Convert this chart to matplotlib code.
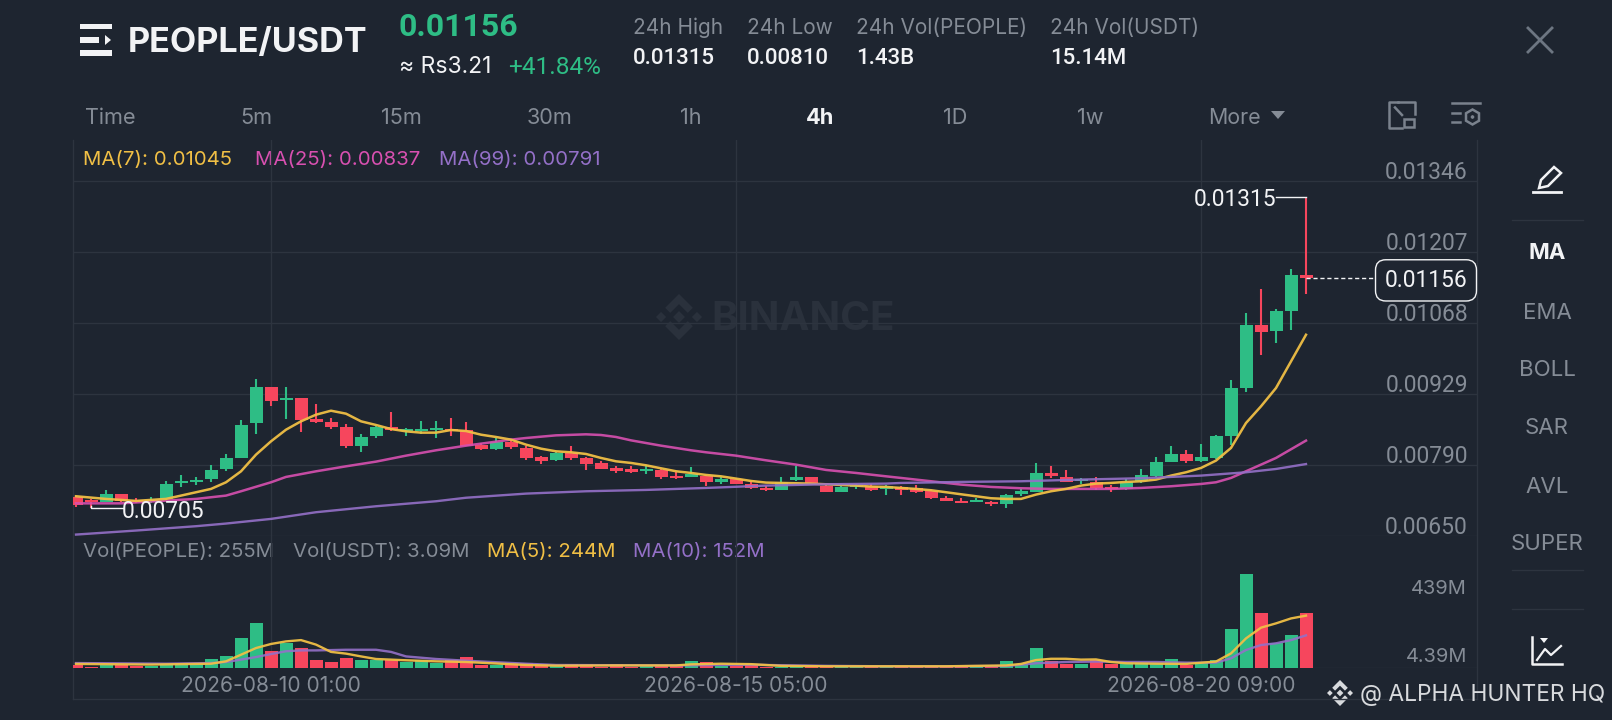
import numpy as np
import matplotlib
matplotlib.use('Agg')
import matplotlib.pyplot as plt
from matplotlib.patches import Polygon, Rectangle, RegularPolygon
from matplotlib.transforms import ScaledTranslation

opens = [726.6, 721.4, 717.5, 731.8, 720.1, 717.5, 722.7, 754, 756, 761.2, 780.8, 803.6, 870.8, 942.6,
         915.9, 921.1, 879.3, 872.8, 863.7, 827.1, 845.4, 863.7, 856.5, 856.5, 857.1, 860.4, 857.1,
         829.1, 821.2, 833.6, 823.2, 804.9, 798.4, 812.8, 803, 793.8, 783.4, 780.8, 776.9, 778.8, 767,
         766.4, 767, 756.6, 761.8, 752.7, 744.2, 741, 759.2, 765.1, 748.8, 736.4, 746.8, 748.8, 742.3,
         746.2, 744.2, 737.7, 724.7, 719.4, 717.5, 716.8, 712.3, 733.1, 737, 774.3, 766.4, 757.3, 755.3,
         746.2, 742.3, 758.6, 768.4, 795.1, 811.5, 797.1, 803, 845.4, 940.1, 1063.4, 1051, 1091.5, 1161.3]
highs = [727.9, 722.7, 739.6, 733.1, 724, 726.6, 757.3, 770.3, 765.7, 788.6, 810.1, 878, 958.3, 942.6,
         941.3, 921.1, 908, 881.3, 870.2, 850.6, 866.3, 893, 861.7, 876.1, 875.4, 881.9, 873.4,
         832.3, 842.1, 837.5, 827.1, 806.2, 814.1, 827.1, 804.3, 796.4, 787.9, 787.9, 788.6, 781.4, 776.2,
         785.3, 769, 765.1, 763.8, 758.6, 748.8, 765.1, 786.6, 765.1, 752.7, 748.8, 752.7, 752.7, 750.8,
         748.8, 750.8, 739.7, 727.9, 724.7, 724, 718.1, 733.1, 742.3, 793.2, 787.9, 778.8, 763.8, 765.8,
         750.8, 761.9, 782.1, 804.9, 825.8, 819.3, 831, 847.4, 956.4, 1086.9, 1133.9, 1094.8, 1173.1, 1315]
lows = [707, 705, 716.2, 716.2, 714.9, 714.9, 721.4, 746.8, 750.7, 756.6, 776.8, 802.3, 849.3, 905.4,
        879.3, 853.2, 871.5, 860.4, 822.5, 815.4, 842.8, 855.8, 846.7, 849.3, 842.8, 846.7, 825.8,
        818.6, 818, 819.9, 798.4, 791.2, 797.7, 799, 780.1, 781.4, 773.6, 773.6, 772.3, 762.5, 761.2,
        765.1, 748.8, 752.7, 751.4, 742.9, 737.7, 740.3, 758.6, 753.4, 735.7, 735.7, 742.9, 737.7, 729.9,
        731.2, 734.4, 723.3, 718.1, 714.2, 716.2, 708.3, 705, 727.9, 735.8, 763.8, 755.3, 752.7, 741,
        736.4, 741, 754, 765.8, 794.5, 792.5, 795.8, 801, 829.1, 932.9, 1005.3, 1028.2, 1054.3, 1123.5]
closes = [711.6, 716.2, 732.5, 718.1, 716.2, 721.4, 752.7, 757.3, 760, 779.5, 803.6, 868.2, 942.6, 915.2,
          921.1, 878, 872.8, 864.3, 826.4, 844.1, 863.7, 857.1, 860.4, 860.4, 861.7, 856.5, 827.1,
          820.6, 833.6, 824.5, 803.6, 797.1, 812.1, 802.3, 791.9, 782.1, 778.2, 776.2, 781.4, 766.4, 763.8,
          771, 755.3, 761.8, 752.7, 744.9, 741, 755.3, 765.1, 754, 737, 746.2, 750.1, 739.6, 748.8,
          741, 736.4, 724, 719.4, 715.5, 721.4, 712.9, 731.2, 737.7, 773.6, 768.4, 756.6, 761.9, 744.2,
          742.3, 756, 769.7, 794.5, 810.8, 797.1, 804.3, 845.4, 939.4, 1063.4, 1050.4, 1090.2, 1162, 1156]

# volume in millions
volumes = [12, 3, 12, 12, 8, 10, 20, 20, 20, 42, 54, 140, 210, 81, 116, 93, 37, 28, 48, 39, 39, 39, 26, 36, 23, 39, 53,
           16, 16, 22, 22, 19, 9, 19, 19, 6, 17, 6, 11, 11, 14, 34, 26, 11, 9, 19, 6, 6, 9, 6, 11, 11, 6, 6, 9,
           6, 7, 8, 10, 6, 5, 9, 33, 19, 92, 34, 19, 20, 37, 19, 22, 25, 25, 40, 14, 25, 37, 182, 438, 256, 115, 154, 256]

# moving averages, read at the candle positions listed
ma7_idx = [0, 2, 4, 6, 7, 9, 10, 11, 12, 13, 14, 15, 16, 17, 18, 19, 20, 21, 22, 23, 24, 25, 26] + list(range(27, 83))
ma7_val = [727.9, 722.7, 718.8, 722.7, 729.2, 742.3, 755.3, 776.8, 809.5, 835.6, 858.4, 874.8, 887.8, 895.6, 889.8,
           874.8, 867.6, 859.7, 855.2, 852.6, 852.6, 857.8, 855.8,
           848.6, 844.1, 838.9, 829.1, 821.2, 816, 814.1, 810.8, 803, 796.4, 793.2, 788.6, 782.7, 776.9, 773.6, 769.7,
           767, 762.5, 757.9, 754.7, 754, 753.4, 752.7, 751.4, 750.1, 748.8, 746.8, 746.2, 744.2, 742.3, 739.7, 735.8,
           731.8, 727.9, 724, 722.7, 722.7, 731.2, 737.7, 742.3, 748.8, 752.7, 754, 756, 757.3, 760.6, 768.4, 774.9,
           783.4, 797.8, 822.6, 871.5, 904.2, 940.1, 992.3, 1044.5]
ma25_idx = [0, 3, 6, 8, 10, 11, 13, 14, 16, 18, 20, 22, 24, 26, 29, 30, 32, 34, 35, 36, 37, 39, 41, 42, 44, 46, 48, 50,
            52, 54, 55, 57, 59, 61, 63, 65, 67, 69, 71, 73, 75, 76, 77, 78, 79, 80, 81, 82]
ma25_val = [714, 714, 719.4, 722.7, 729.2, 737.7, 755.3, 765.8, 776.8, 786.6, 795.8, 807.5, 818, 827.1, 838.9, 842.1,
            847.3, 849.3, 848, 844.1, 837.5, 827.1, 818, 814.1, 807.5, 798.4, 789.9, 779.5, 773.6, 767, 763.8, 757.3,
            750.8, 746.2, 743.6, 742.3, 742.3, 742.3, 744.2, 747.5, 752, 755.3, 763.8, 776.9, 789.9, 803, 820, 837]
ma99_idx = [0, 4, 8, 10, 13, 16, 20, 24, 26, 30, 34, 38, 42, 46, 50, 54, 55, 59, 63, 67, 71, 75, 78, 80, 82]
ma99_val = [652.8, 660.7, 669.2, 674.4, 683.5, 696.6, 708.3, 718.1, 725, 733.1, 737.7, 740.3, 744.2, 748.8, 751.4,
            752.7, 754, 756, 757.3, 760.6, 763.2, 768.4, 774.9, 781.4, 791]
vma5_idx = [0, 5, 9, 10, 11, 12, 13, 14, 15, 16, 17, 18, 19, 20, 22, 24, 26, 30, 32, 36, 40, 41, 43, 45, 47, 50, 54, 58,
            62, 63, 64, 65, 66, 67, 68, 69, 70, 72, 74, 76, 77, 78, 79, 80, 81, 82]
vma5_val = [19, 16, 20, 31, 62, 93, 112, 124, 130, 109, 75, 67, 54, 42, 36, 31, 28, 14, 11, 12, 12, 17, 20, 18, 10, 8, 8, 8,
            12, 19, 37, 43, 43, 39, 40, 28, 22, 20, 19, 30, 68, 138, 188, 208, 231, 244]
vma10_idx = [0, 6, 9, 10, 11, 12, 13, 14, 15, 16, 18, 20, 21, 22, 24, 26, 30, 32, 36, 40, 43, 45, 47, 50, 54, 58, 60, 62,
             64, 66, 68, 70, 72, 74, 76, 77, 78, 79, 80, 81, 82]
vma10_val = [23, 20, 23, 28, 39, 51, 65, 78, 82, 82, 85, 85, 75, 54, 42, 34, 20, 14, 13, 12, 14, 15, 13, 10, 8, 8, 9, 9,
             22, 28, 30, 28, 28, 25, 25, 45, 84, 107, 115, 130, 152]

price_ticks = [1346, 1207, 1068, 929, 790, 650]
price_labels = ['0.01346', '0.01207', '0.01068', '0.00929', '0.00790', '0.00650']
date_ticks = [13, 44, 75]
date_labels = ['2026-08-10 01:00', '2026-08-15 05:00', '2026-08-20 09:00']
tabs = ['Time', '5m', '15m', '30m', '1h', '4h', '1D', '1w']
tab_x = [110, 256, 401, 550, 691, 820, 955, 1090]
indicators = ['MA', 'EMA', 'BOLL', 'SAR', 'AVL', 'SUPER']
indicator_y = [253, 313, 370, 428, 487, 544]
stats = [('24h High', '0.01315', 633), ('24h Low', '0.00810', 747),
         ('24h Vol(PEOPLE)', '1.43B', 856), ('24h Vol(USDT)', '15.14M', 1050)]

BG = '#1e2530'
GRID = '#2d343f'
GREEN = '#2ebd85'
RED = '#f6465d'
GRAY = '#858c96'
WHITE = '#f2f3f5'
YELLOW = '#f0bf45'
PINK = '#d850b0'
PURPLE = '#9470c8'
W, H = 1612, 720
NUM = ['Roboto', 'DejaVu Sans']  # the screenshot has tabular digits, Inter's 1 is too narrow

plt.rcParams['font.family'] = ['Inter', 'DejaVu Sans']

fig = plt.figure(figsize=(W / 100, H / 100), dpi=100, facecolor=BG)


def px_axes(left, top, right, bottom, z):
    # axes placed by screenshot pixels
    ax = fig.add_axes([left / W, 1 - bottom / H, (right - left) / W, (bottom - top) / H], zorder=z)
    ax.patch.set_visible(False)
    return ax


# chrome layer, coordinates are pixels of the screenshot
bg = px_axes(0, 0, W, H, 0)
bg.set_xlim(0, W)
bg.set_ylim(H, 0)
bg.axis('off')


def logo(ax, cx, cy, r, color):
    # four small diamonds and two chevrons
    def diamond(x, y, s):
        ax.add_patch(Polygon([(x, y - s), (x + s, y), (x, y + s), (x - s, y)], fc=color, ec='none'))
    diamond(cx, cy, r * 0.26)
    diamond(cx - r * 0.78, cy, r * 0.22)
    diamond(cx + r * 0.78, cy, r * 0.22)
    for sgn in (-1, 1):
        ax.add_patch(Polygon([(cx, cy + sgn * r), (cx + r * 0.6, cy + sgn * r * 0.4), (cx + r * 0.38, cy + sgn * r * 0.18),
                              (cx, cy + sgn * r * 0.56), (cx - r * 0.38, cy + sgn * r * 0.18),
                              (cx - r * 0.6, cy + sgn * r * 0.4)], fc=color, ec='none'))


logo(bg, 679, 317, 23, '#2a313c')
bg.text(803, 319, 'BINANCE', color='#2a313c', fontsize=29, fontweight='bold', ha='center', va='center')

# header
for y0, y1, x1 in [(24, 28.5, 112), (37, 43, 99), (50, 55.5, 112)]:
    bg.add_patch(Rectangle((79.5, y0), x1 - 79.5, y1 - y0, fc=WHITE, ec='none'))
bg.add_patch(Polygon([(105, 35), (111, 40), (105, 45)], fc=WHITE, ec='none'))
bg.text(128, 43, 'PEOPLE/USDT', color=WHITE, fontsize=24.6, fontweight='bold', ha='left', va='center')
bg.text(399, 27, '0.01156', color=GREEN, fontsize=23, fontweight='bold', ha='left', va='center', family=NUM)
bg.text(399, 67, '≈ Rs3.21', color=WHITE, fontsize=16.5, ha='left', va='center')
bg.text(508, 68, '+41.84%', color=GREEN, fontsize=17.6, ha='left', va='center', family=NUM)
for name, val, x in stats:
    bg.text(x, 28, name, color=GRAY, fontsize=15, ha='left', va='center')
    bg.text(x, 58, val, color=WHITE, fontsize=16, ha='left', va='center', family=NUM, fontweight='medium')

for name, x in zip(tabs, tab_x):
    sel = name == '4h'
    bg.text(x, 118, name, color=WHITE if sel else GRAY, fontsize=15.6, ha='center', va='center',
            fontweight='bold' if sel else 'normal')
bg.text(1208, 118, 'More', color=GRAY, fontsize=15.4, ha='left', va='center')
bg.add_patch(Polygon([(1271, 111), (1285, 111), (1278, 119)], fc=GRAY, ec='none'))

# toolbar icons
ICON = '#7a828d'
bg.plot([1402, 1389, 1389, 1398], [128, 128, 102, 102], color=ICON, lw=1.8)
bg.plot([1398, 1415, 1415], [102, 102, 114], color=ICON, lw=1.8)
bg.add_patch(Rectangle((1404, 119), 10, 8, fc='none', ec=ICON, lw=1.8))
bg.plot([1395, 1402], [107.5, 115], color=ICON, lw=1.8)
bg.plot([1452, 1480], [103, 103], color=ICON, lw=1.8)
bg.plot([1452, 1460], [112.6, 112.6], color=ICON, lw=1.8)
bg.plot([1452, 1460], [122, 122], color=ICON, lw=1.8)
bg.add_patch(RegularPolygon((1472.5, 117), 6, radius=7.5, fc='none', ec=ICON, lw=1.8))
bg.add_patch(RegularPolygon((1472.5, 117), 6, radius=2, fc=ICON, ec='none'))
bg.plot([1528, 1552], [28, 52], color='#6d7682', lw=2)
bg.plot([1528, 1552], [52, 28], color='#6d7682', lw=2)

# pencil and side panel
bg.add_patch(Polygon([(1539, 188), (1541, 180), (1554, 167), (1561, 173), (1548, 186)], fc='none', ec=WHITE, lw=1.8))
bg.plot([1533, 1561], [192, 192], color=WHITE, lw=2)
for y in [220, 570, 609]:
    bg.plot([1512, 1583], [y, y], color=GRID, lw=1)
for name, y in zip(indicators, indicator_y):
    bg.text(1547, y, name, color=WHITE if name == 'MA' else GRAY, fontsize=16, ha='center', va='center',
            fontweight='bold' if name == 'MA' else 'normal')
bg.plot([1532, 1532, 1562], [637, 664, 664], color=WHITE, lw=1.8)
bg.plot([1537, 1545, 1551, 1561], [660, 649, 655, 646], color=WHITE, lw=1.6)
bg.add_patch(Polygon([(1540, 638), (1548, 638), (1544, 643)], fc=WHITE, ec='none'))

# frame of the chart
bg.plot([72.7, 72.7], [140, 699], color=GRID, lw=1)
bg.plot([1477, 1477], [140, 699], color=GRID, lw=1)
bg.plot([72.7, 1477], [699, 699], color=GRID, lw=1)

logo(bg, 1340, 693, 13, '#d8dadd')
bg.text(1360, 695, '@ ALPHA HUNTER HQ', color='#d8dadd', fontsize=16.4, ha='left', va='center')

# candle x = 76 + 15 * index in screenshot pixels
x_lim = ((72.7 - 76) / 15, (1477 - 76) / 15)

ax = px_axes(72.7, 140, 1477, 536, 2)
ax.set_xlim(x_lim)
ax.set_ylim(1207 - (536 - 252) * 139 / 71, 1207 + (252 - 140) * 139 / 71)

vax = px_axes(72.7, 536, 1477, 668, 2)
vax.set_xlim(x_lim)
vax.set_ylim(0, (668 - 536) * 4.66)

for a in (ax, vax):
    for s in a.spines.values():
        s.set_visible(False)
    a.set_xticks(date_ticks)
    a.grid(True, color=GRID, lw=1)
    a.set_axisbelow(True)

xs = np.arange(len(opens))
o = np.array(opens)
c = np.array(closes)
colors = [GREEN if cl >= op else RED for op, cl in zip(opens, closes)]

ax.vlines(xs, lows, highs, color=colors, lw=1.5, zorder=3)
ax.bar(xs, np.maximum(np.abs(c - o), 1.5), bottom=np.minimum(o, c), width=13 / 15, color=colors, lw=0, zorder=3)
ax.plot(ma99_idx, ma99_val, color=PURPLE, lw=1.7, alpha=0.9, zorder=5)
ax.plot(ma25_idx, ma25_val, color=PINK, lw=1.8, alpha=0.9, zorder=4)
ax.plot(ma7_idx, ma7_val, color=YELLOW, lw=1.8, alpha=0.95, zorder=4)

ax.yaxis.tick_right()
ax.set_yticks(price_ticks)
ax.set_yticklabels(price_labels, family=NUM)
ax.tick_params(axis='y', length=0, pad=-6.5, labelsize=16.4, labelcolor=GRAY)
for lab in ax.get_yticklabels():
    lab.set_ha('right')
    lab.set_va('bottom')
    # labels sit a little closer to their grid line than va=bottom gives
    lab.set_transform(lab.get_transform() + ScaledTranslation(0, -0.03, fig.dpi_scale_trans))
ax.tick_params(axis='x', length=0, labelbottom=False)

# high, low and last price markers
ax.plot([(1276 - 76) / 15, 82], [1315, 1315], color=WHITE, lw=1, zorder=6)
ax.text((1276 - 76) / 15, 1315, '0.01315', color=WHITE, fontsize=16.4, ha='right', va='center_baseline', zorder=6, family=NUM)
ax.plot([1, 1, (123 - 76) / 15], [708, 705, 705], color=WHITE, lw=1, zorder=6)
ax.text((122 - 76) / 15, 703, '0.00705', color=WHITE, fontsize=16.4, ha='left', va='center_baseline', zorder=6, family=NUM)
ax.plot([82, (1376 - 76) / 15], [1156, 1156], color=WHITE, lw=1, ls=(0, (3, 2)), zorder=6)
ax.text((1426 - 76) / 15, 1156, '0.01156', color=WHITE, fontsize=16.4, ha='center', va='center_baseline', zorder=7, family=NUM,
        bbox=dict(boxstyle='round,pad=0.4,rounding_size=0.45', fc=BG, ec=WHITE, lw=1))

vax.bar(xs, volumes, width=13 / 15, color=colors, lw=0, zorder=3)
vax.plot(vma10_idx, vma10_val, color=PURPLE, lw=1.7, alpha=0.9, zorder=4)
vax.plot(vma5_idx, vma5_val, color=YELLOW, lw=1.7, alpha=0.95, zorder=5)
vax.set_yticks([0])
vax.set_yticklabels([''])
vax.tick_params(axis='y', length=0)
vax.set_xticklabels(date_labels)
vax.tick_params(axis='x', length=0, pad=6, labelsize=15.1, labelcolor=GRAY)
vax.annotate('439M', (1, 439), xycoords=('axes fraction', 'data'), xytext=(-7.2, -11), textcoords='offset points',
             color=GRAY, fontsize=14.4, ha='right', va='center')
vax.annotate('4.39M', (1, 4.39), xycoords=('axes fraction', 'data'), xytext=(-7.2, 7.6), textcoords='offset points',
             color=GRAY, fontsize=14.4, ha='right', va='center')

# legends
for txt, x, col in [('MA(7): 0.01045', 83, YELLOW), ('MA(25): 0.00837', 255, PINK), ('MA(99): 0.00791', 439, PURPLE)]:
    bg.text(x, 160, txt, color=col, fontsize=14.7, ha='left', va='center')
for txt, x, col in [('Vol(PEOPLE): 255M', 83, GRAY), ('Vol(USDT): 3.09M', 293, GRAY),
                    ('MA(5): 244M', 487, YELLOW), ('MA(10): 152M', 633, PURPLE)]:
    bg.text(x, 552, txt, color=col, fontsize=14.7, ha='left', va='center')

fig.savefig('out.png', dpi=100, facecolor=BG)
